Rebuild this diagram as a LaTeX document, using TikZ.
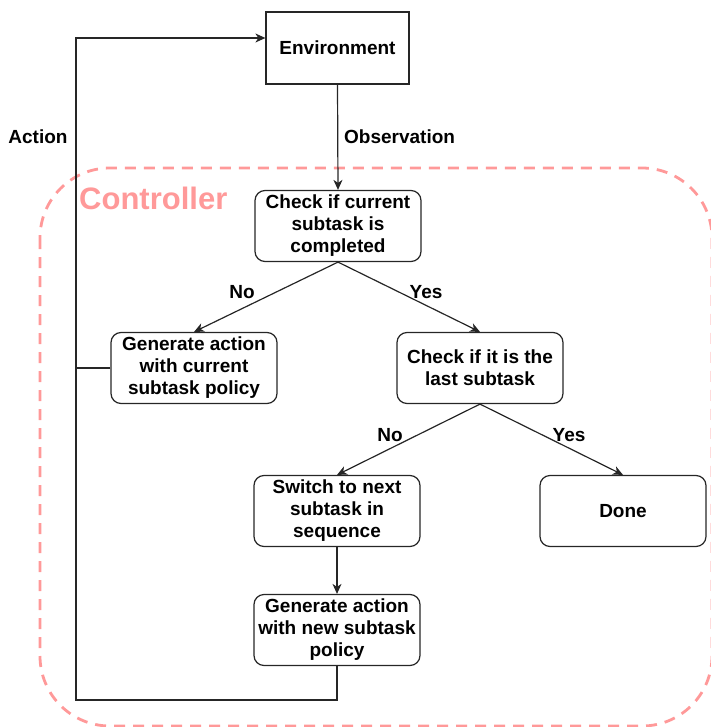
\documentclass[tikz,border=0pt]{standalone}
\usepackage{fontspec}
\setmainfont{Liberation Sans}
\usetikzlibrary{arrows.meta,calc}
\definecolor{ctrlpink}{HTML}{FF9999}
\tikzset{
  box/.style={draw=black!85, line width=1.2pt, rounded corners=10pt,
    minimum width=166pt, minimum height=71pt, align=center,
    font=\fontsize{19}{22}\selectfont\bfseries, inner sep=2pt},
  envbox/.style={draw=black!85, line width=1.2pt,
    minimum width=143pt, minimum height=72pt, align=center,
    font=\fontsize{19}{22}\selectfont\bfseries},
  link/.style={draw=black!85, line width=1.2pt},
  arrow/.style={link, -{Stealth[length=10pt,width=9pt,inset=3pt]}},
  lbl/.style={font=\fontsize{19}{22}\selectfont\bfseries, inner sep=0pt},
}
\begin{document}
\begin{tikzpicture}[x=1pt,y=-1pt]
  \useasboundingbox (0,0) rectangle (710,727);

  % controller region
  \draw[ctrlpink, line width=2.8pt, dash pattern=on 11pt off 8pt, rounded corners=70pt]
    (40,168) rectangle (712,726);
  \node[anchor=west, text=ctrlpink, font=\fontsize{31}{36}\selectfont\bfseries, inner sep=0pt]
    (ctrl) at (79,198) {Controller};

  % nodes
  \node[envbox] (env) at (337.5,48) {Environment};
  \node[box] (chk)  at (338,226) {Check if current\\subtask is\\completed};
  \node[box] (gen)  at (194,368) {Generate action\\with current\\subtask policy};
  \node[box] (last) at (480,368) {Check if it is the\\last subtask};
  \node[box] (sw)   at (337,511) {Switch to next\\subtask in\\sequence};
  \node[box] (done) at (623,511) {Done};
  \node[box] (gnew) at (337,630) {Generate action\\with new subtask\\policy};

  \coordinate (loopBL) at (76,700);
  \coordinate (envIn) at ([yshift=10pt]env.west);

  % connectors
  \draw[arrow] (env.south) -- (chk.north);
  \draw[arrow] (chk.south) -- (gen.north);
  \draw[arrow] (chk.south) -- (last.north);
  \draw[arrow] (last.south) -- (sw.north);
  \draw[arrow] (last.south) -- (done.north);
  \draw[arrow] (sw.south) -- (gnew.north);
  \draw[arrow] (gnew.south) -- (gnew.south |- loopBL) -- (loopBL)
    -- (loopBL |- envIn) -- (envIn);
  \draw[link] (gen.west) -- (gen.west -| loopBL);

  % labels
  \node[lbl] (lact) at (38,137) {Action};
  \node[lbl, anchor=west] (lobs) at (344,137) {Observation};
  \node[lbl] (lno1) at (242,292) {No};
  \node[lbl] (lyes1) at (426,292) {Yes};
  \node[lbl] (lno2) at (390,435) {No};
  \node[lbl] (lyes2) at (569,435) {Yes};
\end{tikzpicture}
\end{document}
